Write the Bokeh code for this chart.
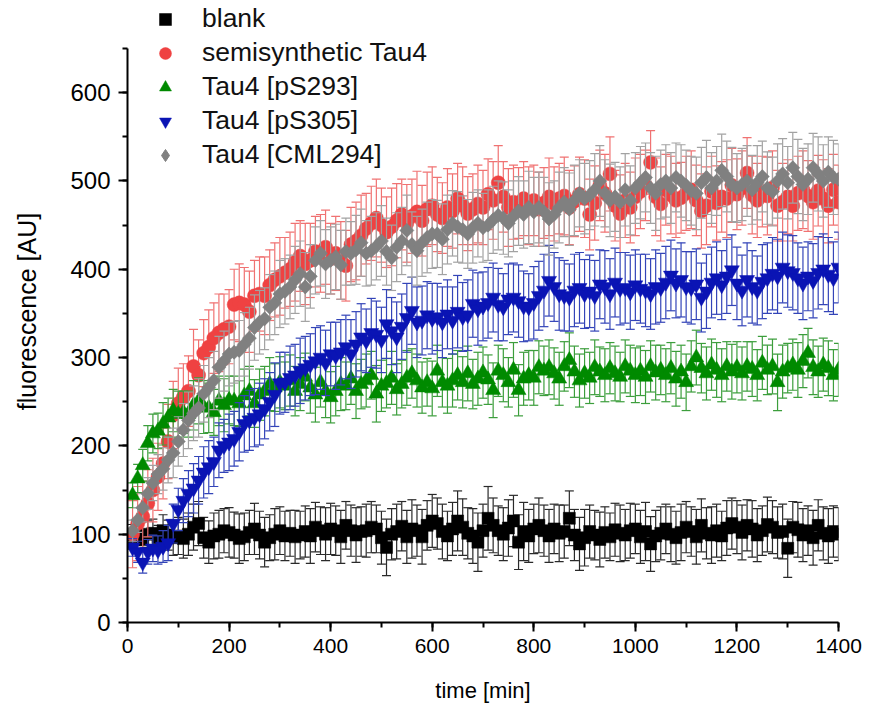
from bokeh.plotting import figure
from bokeh.models import Range1d, SingleIntervalTicker, Legend, LegendItem, ColumnDataSource
from bokeh.embed import file_html
from bokeh.resources import INLINE

# ---------------- data ----------------
time_min = [
    10, 20, 30, 40, 50, 60, 70, 80, 90, 100,
    110, 120, 130, 140, 150, 160, 170, 180, 190, 200,
    210, 220, 230, 240, 250, 260, 270, 280, 290, 300,
    310, 320, 330, 340, 350, 360, 370, 380, 390, 400,
    410, 420, 430, 440, 450, 460, 470, 480, 490, 500,
    510, 520, 530, 540, 550, 560, 570, 580, 590, 600,
    610, 620, 630, 640, 650, 660, 670, 680, 690, 700,
    710, 720, 730, 740, 750, 760, 770, 780, 790, 800,
    810, 820, 830, 840, 850, 860, 870, 880, 890, 900,
    910, 920, 930, 940, 950, 960, 970, 980, 990, 1000,
    1010, 1020, 1030, 1040, 1050, 1060, 1070, 1080, 1090, 1100,
    1110, 1120, 1130, 1140, 1150, 1160, 1170, 1180, 1190, 1200,
    1210, 1220, 1230, 1240, 1250, 1260, 1270, 1280, 1290, 1300,
    1310, 1320, 1330, 1340, 1350, 1360, 1370, 1380, 1390, 1400,
]

blank = [
    97, 99, 94, 100, 101, 96, 104, 99, 96, 98,
    95, 100, 108, 112, 96, 91, 98, 100, 104, 102,
    99, 95, 97, 102, 106, 99, 91, 96, 100, 104,
    98, 101, 97, 99, 103, 98, 108, 104, 100, 106,
    104, 97, 110, 104, 99, 103, 104, 108, 106, 96,
    85, 100, 103, 109, 97, 106, 104, 97, 110, 115,
    112, 103, 98, 106, 115, 108, 101, 98, 91, 104,
    118, 110, 104, 100, 107, 115, 91, 103, 98, 106,
    110, 104, 98, 106, 101, 103, 118, 99, 89, 96,
    103, 99, 94, 102, 97, 105, 101, 99, 104, 106,
    97, 103, 89, 98, 101, 106, 100, 96, 102, 108,
    103, 97, 110, 101, 99, 104, 98, 107, 112, 108,
    102, 110, 106, 99, 104, 111, 108, 102, 103, 84,
    108, 105, 99, 104, 96, 110, 101, 98, 103, 100,
]
blank_err = [
    14, 12, 10, 15, 16, 14, 18, 17, 20, 21,
    22, 24, 26, 25, 23, 24, 26, 27, 25, 28,
    26, 28, 27, 25, 29, 27, 28, 26, 29, 27,
    28, 26, 30, 27, 29, 31, 28, 27, 30, 29,
    28, 30, 27, 29, 31, 28, 30, 29, 27, 30,
    32, 29, 31, 28, 30, 33, 29, 31, 28, 30,
    29, 31, 28, 30, 34, 32, 29, 31, 33, 30,
    36, 31, 28, 30, 32, 29, 31, 33, 30, 28,
    31, 29, 30, 28, 32, 30, 31, 29, 30, 32,
    30, 28, 31, 29, 27, 30, 32, 29, 31, 28,
    30, 33, 31, 29, 30, 28, 31, 30, 32, 29,
    28, 31, 30, 29, 32, 30, 28, 31, 29, 30,
    31, 29, 32, 30, 28, 31, 30, 29, 31, 33,
    29, 31, 30, 28, 31, 29, 30, 31, 29, 30,
]

semi = [
    100, 112, 120, 135, 150, 165, 180, 205, 235, 248,
    255, 262, 290, 280, 305, 312, 322, 328, 332, 335,
    360, 362, 360, 352, 370, 372, 370, 382, 388, 392,
    396, 400, 408, 415, 406, 410, 420, 418, 425, 412,
    418, 410, 404, 428, 432, 438, 446, 452, 458, 450,
    442, 448, 455, 462, 452, 460, 465, 455, 468, 472,
    462, 458, 470, 466, 480, 472, 463, 468, 474, 470,
    485, 478, 498, 482, 470, 476, 475, 480, 472, 478,
    468, 475, 482, 474, 480, 483, 470, 477, 485, 480,
    462, 475, 495, 486, 508, 472, 463, 478, 470, 482,
    488, 495, 521, 482, 474, 490, 484, 478, 481, 486,
    490, 478, 466, 472, 488, 475, 482, 480, 495, 485,
    492, 509, 484, 478, 488, 483, 492, 472, 476, 482,
    472, 486, 490, 483, 476, 489, 480, 472, 490, 476,
]
semi_err = [
    38, 42, 40, 38, 36, 38, 40, 42, 38, 40,
    38, 40, 42, 40, 38, 42, 40, 44, 40, 42,
    40, 44, 42, 46, 40, 42, 44, 40, 42, 44,
    40, 42, 44, 40, 46, 42, 40, 44, 42, 40,
    42, 44, 40, 42, 44, 46, 40, 42, 44, 42,
    40, 44, 42, 40, 44, 42, 46, 40, 42, 44,
    42, 40, 44, 42, 40, 44, 42, 40, 44, 42,
    40, 44, 42, 40, 44, 42, 40, 42, 44, 40,
    42, 40, 44, 42, 40, 44, 42, 40, 42, 44,
    40, 42, 40, 44, 42, 40, 44, 42, 40, 44,
    42, 40, 36, 44, 42, 40, 44, 42, 40, 42,
    44, 40, 42, 44, 40, 42, 40, 44, 42, 40,
    42, 40, 44, 42, 40, 44, 42, 40, 44, 42,
    40, 42, 44, 40, 42, 40, 44, 42, 40, 42,
]

ps293 = [
    144, 163, 178, 203, 214, 217, 225, 232, 240, 236,
    238, 236, 246, 251, 244, 243, 238, 251, 246, 252,
    251, 248, 257, 262, 248, 258, 262, 270, 266, 272,
    268, 274, 262, 270, 278, 266, 258, 272, 262, 255,
    262, 270, 268, 276, 262, 270, 274, 280, 259, 268,
    271, 277, 264, 270, 277, 282, 274, 266, 272, 265,
    285, 272, 268, 274, 280, 272, 282, 270, 276, 283,
    275, 263, 285, 280, 272, 286, 263, 276, 280, 277,
    289, 285, 289, 282, 276, 290, 297, 284, 274, 282,
    277, 289, 284, 280, 288, 282, 278, 290, 285, 280,
    285, 278, 290, 283, 286, 280, 288, 276, 284, 272,
    290, 300, 288, 282, 292, 286, 280, 290, 284, 289,
    282, 290, 287, 280, 294, 286, 290, 272, 284, 288,
    292, 286, 296, 305, 289, 284, 292, 288, 280, 286,
]
ps293_err = [
    14, 16, 18, 20, 22, 20, 24, 22, 24, 26,
    24, 26, 28, 26, 30, 28, 26, 28, 30, 27,
    28, 26, 30, 28, 27, 29, 28, 30, 27, 29,
    27, 29, 28, 30, 27, 29, 31, 28, 30, 29,
    28, 30, 27, 29, 31, 28, 30, 27, 32, 29,
    28, 30, 29, 27, 31, 28, 30, 29, 27, 31,
    29, 28, 31, 30, 28, 29, 31, 28, 30, 29,
    28, 31, 29, 30, 28, 31, 29, 30, 28, 31,
    30, 28, 31, 29, 30, 28, 31, 29, 30, 28,
    29, 31, 28, 30, 29, 31, 28, 30, 29, 31,
    28, 30, 29, 31, 28, 30, 29, 31, 30, 32,
    29, 31, 28, 30, 29, 31, 30, 28, 31, 29,
    30, 28, 31, 29, 30, 28, 31, 32, 30, 28,
    29, 31, 30, 28, 31, 29, 30, 31, 29, 30,
]

ps305 = [
    85, 80, 68, 80, 84, 82, 86, 90, 112, 128,
    138, 146, 152, 161, 170, 176, 182, 195, 200, 204,
    208, 216, 225, 229, 232, 236, 242, 250, 258, 271,
    272, 277, 280, 285, 288, 292, 296, 300, 294, 304,
    302, 306, 312, 304, 315, 323, 319, 328, 326, 320,
    338, 330, 323, 335, 345, 353, 340, 342, 348, 344,
    346, 340, 349, 342, 352, 346, 348, 361, 355, 358,
    362, 368, 360, 357, 366, 368, 364, 358, 357, 362,
    370, 376, 387, 380, 372, 370, 368, 376, 379, 372,
    375, 370, 383, 380, 372, 385, 378, 379, 374, 382,
    378, 376, 372, 380, 379, 385, 393, 384, 388, 380,
    379, 383, 368, 375, 385, 390, 382, 392, 399, 384,
    376, 388, 380, 376, 386, 390, 395, 392, 402, 398,
    396, 390, 384, 392, 387, 396, 400, 394, 390, 402,
]
ps305_err = [
    10, 12, 12, 14, 15, 16, 18, 20, 22, 24,
    25, 26, 28, 27, 29, 30, 28, 31, 30, 32,
    31, 33, 32, 34, 33, 35, 34, 33, 36, 35,
    34, 36, 35, 37, 36, 35, 38, 36, 37, 36,
    38, 37, 36, 39, 37, 38, 36, 39, 38, 37,
    39, 38, 40, 37, 39, 38, 40, 39, 38, 40,
    38, 40, 39, 38, 41, 39, 40, 38, 41, 39,
    40, 39, 41, 38, 40, 39, 41, 40, 38, 41,
    39, 41, 40, 39, 41, 40, 38, 41, 40, 39,
    41, 40, 39, 41, 40, 39, 41, 40, 42, 40,
    39, 41, 40, 42, 39, 41, 40, 39, 42, 40,
    41, 40, 39, 42, 40, 41, 39, 42, 40, 41,
    40, 42, 41, 39, 42, 40, 41, 42, 40, 41,
    42, 40, 41, 39, 42, 41, 40, 42, 41, 40,
]

cml294 = [
    104, 116, 130, 146, 158, 168, 174, 184, 192, 205,
    218, 229, 237, 243, 259, 266, 274, 289, 296, 304,
    306, 308, 315, 322, 334, 340, 344, 357, 362, 372,
    375, 380, 388, 395, 380, 392, 410, 418, 406, 410,
    414, 405, 420, 418, 422, 430, 418, 421, 426, 432,
    420, 413, 425, 432, 444, 428, 421, 430, 436, 440,
    440, 434, 445, 452, 448, 445, 440, 447, 452, 447,
    450, 456, 461, 458, 452, 460, 466, 462, 470, 465,
    470, 465, 457, 462, 470, 476, 468, 478, 486, 480,
    484, 490, 500, 486, 478, 482, 476, 490, 478, 492,
    498, 504, 492, 486, 496, 500, 492, 504, 500, 495,
    489, 486, 498, 504, 492, 500, 512, 505, 496, 492,
    496, 500, 490, 498, 505, 492, 488, 500, 508, 498,
    515, 505, 496, 502, 515, 508, 500, 510, 504, 502,
]
cml294_err = [
    12, 14, 16, 18, 20, 22, 24, 26, 28, 28,
    30, 32, 31, 33, 32, 34, 33, 35, 34, 36,
    35, 34, 36, 35, 37, 36, 35, 37, 36, 38,
    37, 36, 38, 37, 39, 36, 38, 37, 39, 38,
    37, 39, 38, 36, 39, 38, 37, 39, 38, 40,
    38, 37, 39, 38, 40, 37, 39, 38, 40, 39,
    38, 40, 39, 37, 40, 38, 39, 40, 38, 39,
    40, 38, 39, 41, 38, 40, 39, 38, 41, 39,
    40, 39, 41, 38, 40, 39, 41, 40, 38, 40,
    39, 41, 40, 38, 41, 39, 40, 41, 39, 40,
    41, 39, 40, 42, 39, 41, 40, 39, 41, 40,
    39, 41, 40, 42, 40, 39, 41, 40, 42, 39,
    41, 40, 39, 42, 40, 41, 39, 42, 40, 41,
    40, 42, 41, 40, 39, 42, 41, 40, 42, 40,
]

# name, values, errors, marker, colour, error colour, size, angle
series = [
    ("blank", blank, blank_err, "square", "#000000", "#2a2a2a", 12, 0.0),
    ("semisynthetic Tau4", semi, semi_err, "circle", "#ef4242", "#f07272", 14, 0.0),
    ("Tau4 [pS293]", ps293, ps293_err, "triangle", "#008a00", "#3c9e3c", 15, 0.0),
    ("Tau4 [pS305]", ps305, ps305_err, "inverted_triangle", "#0a14b4", "#3344b8", 15, 0.0),
    ("Tau4 [CML294]", cml294, cml294_err, "square", "#808080", "#a2a2a2", 10, 0.785398),
]

Y_TOP = 650.0
FRAME_TOP_PAD = 48  # px of empty frame above y = 650 (legend space)
FRAME_H = 622

# ---------------- figure ----------------
p = figure(width=865, height=713,
           x_range=Range1d(0, 1400),
           y_range=Range1d(0, Y_TOP * FRAME_H / (FRAME_H - FRAME_TOP_PAD)),
           output_backend="svg", toolbar_location=None,
           min_border_left=127, min_border_right=27,
           min_border_top=0, min_border_bottom=91)
p.outline_line_color = None
p.xgrid.visible = False
p.ygrid.visible = False
p.background_fill_color = "white"
p.border_fill_color = "white"

items = []
for name, vals, errs, marker, color, ecolor, size, ang in series:
    up = [v + e for v, e in zip(vals, errs)]
    lo = [v - e for v, e in zip(vals, errs)]
    src = ColumnDataSource(dict(t=time_min, y=vals, up=up, lo=lo))
    p.segment(x0="t", y0="lo", x1="t", y1="up", source=src,
              line_color=ecolor, line_width=1.2)
    p.scatter(x="t", y="up", source=src, marker="dash", size=9,
              line_color=ecolor, line_width=1.2)
    p.scatter(x="t", y="lo", source=src, marker="dash", size=9,
              line_color=ecolor, line_width=1.2)
    if ang:
        # diamond drawn underneath (fully hidden by the rotated square); used for the legend
        lr = p.scatter(x="t", y="y", source=src, marker="diamond", size=13,
                       fill_color=color, line_color=color)
        p.scatter(x="t", y="y", source=src, marker=marker, size=size,
                  angle=ang, fill_color=color, line_color=color, line_width=0.5)
    else:
        lr = p.scatter(x="t", y="y", source=src, marker=marker, size=size,
                       fill_color=color, line_color=color, line_width=0.5)
    items.append(LegendItem(label=name, renderers=[lr]))

legend = Legend(items=items, location=(22, 452),
                label_text_font="Liberation Sans", label_text_font_size="26.5px",
                label_text_color="#111111",
                glyph_width=32, glyph_height=30, label_height=20,
                label_standoff=21, spacing=3, padding=0, margin=0,
                border_line_color=None, background_fill_alpha=0)
p.add_layout(legend, "center")

xa = p.xaxis[0]
ya = p.yaxis[0]
xa.ticker = SingleIntervalTicker(interval=200, num_minor_ticks=2)
ya.ticker = SingleIntervalTicker(interval=100, num_minor_ticks=2)
ya.bounds = (0, Y_TOP)
for ax in (xa, ya):
    ax.axis_line_width = 2
    ax.axis_line_color = "black"
    ax.major_tick_line_width = 2
    ax.minor_tick_line_width = 2
    ax.major_tick_line_color = "black"
    ax.minor_tick_line_color = "black"
    ax.major_tick_in = 0
    ax.major_tick_out = 9
    ax.minor_tick_in = 0
    ax.minor_tick_out = 5
    ax.major_label_text_color = "black"
    ax.axis_label_text_font_style = "normal"
    ax.axis_label_text_color = "black"
    ax.major_label_text_font = "Liberation Sans"
    ax.axis_label_text_font = "Liberation Sans"

xa.axis_label = "time [min]"
xa.major_label_text_font_size = "21px"
xa.axis_label_text_font_size = "22px"
xa.major_label_standoff = 7
xa.axis_label_standoff = 22

ya.axis_label = "fluorescence [AU]"
ya.major_label_text_font_size = "24px"
ya.axis_label_text_font_size = "25px"
ya.major_label_standoff = 8
ya.axis_label_standoff = 26

open("out.html", "w").write(file_html(p, INLINE))
